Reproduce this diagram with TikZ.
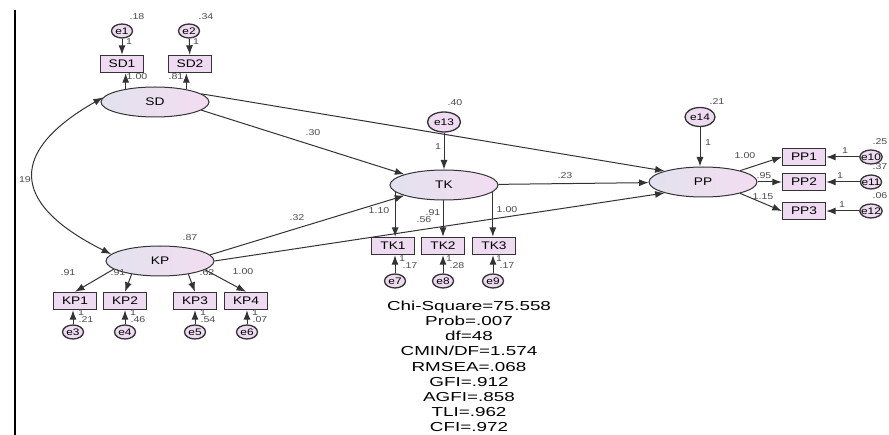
\documentclass[tikz,border=0pt]{standalone}
\usepackage{fontspec}
\setmainfont{Liberation Sans}[FakeStretch=1.25]
\newfontfamily\fitfont{Liberation Sans}[FakeStretch=1.45]
\usetikzlibrary{arrows.meta,shapes.geometric}
\definecolor{latleft}{HTML}{E2E2EE}
\definecolor{latright}{HTML}{F3DCF1}
\definecolor{boxfill}{HTML}{EEDBF1}
\definecolor{edge}{HTML}{333333}
\definecolor{coefgray}{HTML}{4A4A4A}

\begin{document}
\begin{tikzpicture}[x=1pt,y=-1pt,>={Latex[length=9.5pt,width=7pt]},
    latent/.style={ellipse,draw=edge,line width=1pt,left color=latleft,right color=latright,
      minimum width=108pt,minimum height=30pt,inner sep=0pt,font=\fontsize{11}{11}\selectfont},
    obs/.style={rectangle,draw=edge,line width=1.4pt,fill=boxfill,minimum width=43pt,
      minimum height=17pt,inner sep=0pt,font=\fontsize{11}{11}\selectfont},
    err/.style={ellipse,draw=edge,line width=1.3pt,fill=boxfill,minimum width=21pt,
      minimum height=14pt,inner sep=0pt,font=\fontsize{9.5}{9.5}\selectfont},
    coef/.style={font=\fontsize{8.5}{8.5}\selectfont,text=coefgray,inner sep=0pt},
    arr/.style={->,line width=1pt,draw=edge}]
  \useasboundingbox (0,0) rectangle (889,435);
  \draw[line width=1.6pt] (15,10) -- (15,435);

  % SD and its indicators
  \node[err] (e1) at (122,31) {e1};
  \node[err] (e2) at (189,31) {e2};
  \node[obs] (SD1) at (122,64) {SD1};
  \node[obs] (SD2) at (190,64) {SD2};
  \node[latent] (SD) at (155,102) {SD};
  \draw[arr] (e1) -- (SD1);
  \draw[arr] (e2) -- (SD2);
  \draw[arr] (SD.156) -- (SD.156 |- SD1.south);
  \draw[arr] (SD.22) -- (SD.22 |- SD2.south);
  \node[coef] (v18) at (137,17) {.18};
  \node[coef] (v34) at (206,17) {.34};
  \node[coef] (w1) at (129,42) {1};
  \node[coef] (w2) at (196,42) {1};
  \node[coef] (b11) at (137,77) {1.00};
  \node[coef] (b12) at (176,77) {.81};

  % KP and its indicators
  \node[latent] (KP) at (160,261) {KP};
  \node[obs] (KP1) at (75,301) {KP1};
  \node[obs] (KP2) at (125,301) {KP2};
  \node[obs] (KP3) at (195,301) {KP3};
  \node[obs] (KP4) at (246,301) {KP4};
  \node[err] (e3) at (73,332) {e3};
  \node[err] (e4) at (125,332) {e4};
  \node[err] (e5) at (195,332) {e5};
  \node[err] (e6) at (247,332) {e6};
  \draw[arr] (KP.190) -- (KP1.north);
  \draw[arr] (KP.205) -- (KP2.north);
  \draw[arr] (KP.335) -- (KP3.north);
  \draw[arr] (KP.349) -- (KP4.north);
  \draw[arr] (e3.north) -- (e3.north |- KP1.south);
  \draw[arr] (e4.north) -- (e4.north |- KP2.south);
  \draw[arr] (e5.north) -- (e5.north |- KP3.south);
  \draw[arr] (e6.north) -- (e6.north |- KP4.south);
  \node[coef] (v87) at (190,238) {.87};
  \node[coef] (b21) at (68,273) {.91};
  \node[coef] (b22) at (118,273) {.91};
  \node[coef] (b23) at (207,273) {.62};
  \node[coef] (b24) at (243,272) {1.00};
  \node[coef] (w3) at (81,313) {1};
  \node[coef] (w4) at (133,313) {1};
  \node[coef] (w5) at (203,313) {1};
  \node[coef] (w6) at (255,313) {1};
  \node[coef] (v21) at (86,320) {.21};
  \node[coef] (v46) at (138,320) {.46};
  \node[coef] (v54) at (208,320) {.54};
  \node[coef] (v07) at (260,320) {.07};

  % covariance SD <-> KP
  \draw[<->,line width=1pt,draw=edge] (SD.175) .. controls (11,150) and (7,202) .. (KP.172);
  \node[coef] (c19) at (25,180) {19};

  % TK and its indicators
  \node[latent] (TK) at (444,185) {TK};
  \node[err,minimum width=33pt,minimum height=20pt] (e13) at (444,122) {e13};
  \node[obs] (TK1) at (393,246) {TK1};
  \node[obs] (TK2) at (443,246) {TK2};
  \node[obs] (TK3) at (494,246) {TK3};
  \node[err] (e7) at (395,281) {e7};
  \node[err] (e8) at (443,281) {e8};
  \node[err] (e9) at (493,281) {e9};
  \draw[arr] (e13) -- (TK);
  \draw[arr] (TK.188) -- (TK.188 |- TK1.north);
  \draw[arr] (TK.south -| TK2) -- (TK2.north);
  \draw[arr] (TK.352) -- (TK.352 |- TK3.north);
  \draw[arr] (e7.north) -- (e7.north |- TK1.south);
  \draw[arr] (e8.north) -- (e8.north |- TK2.south);
  \draw[arr] (e9.north) -- (e9.north |- TK3.south);
  \node[coef] (v40) at (455,103) {.40};
  \node[coef] (w13) at (438,147) {1};
  \node[coef] (b31) at (379,211) {1.10};
  \node[coef] (b32) at (433,213) {.91};
  \node[coef] (b33) at (507,210) {1.00};
  \node[coef] (w7) at (402,259) {1};
  \node[coef] (w8) at (449,259) {1};
  \node[coef] (w9) at (499,259) {1};
  \node[coef] (v17a) at (410,266) {.17};
  \node[coef] (v28) at (457,266) {.28};
  \node[coef] (v17b) at (507,266) {.17};

  % PP and its indicators
  \node[latent] (PP) at (703,182) {PP};
  \node[err,minimum width=30pt,minimum height=19pt] (e14) at (700,117) {e14};
  \node[obs] (PP1) at (804,157) {PP1};
  \node[obs] (PP2) at (804,182) {PP2};
  \node[obs] (PP3) at (804,211) {PP3};
  \node[err,inner xsep=-2pt] (e10) at (871,157) {e10};
  \node[err,inner xsep=-2pt] (e11) at (871,182) {e11};
  \node[err,inner xsep=-2pt] (e12) at (871,211) {e12};
  \draw[arr] (e14.south) -- (e14.south |- PP.north);
  \draw[arr] (PP.17) -- (PP1.west);
  \draw[arr] (PP) -- (PP2);
  \draw[arr] (PP.343) -- (PP3.west);
  \draw[arr] (e10) -- (PP1);
  \draw[arr] (e11) -- (PP2);
  \draw[arr] (e12) -- (PP3);
  \node[coef] (v21b) at (717,102) {.21};
  \node[coef] (w14) at (708,143) {1};
  \node[coef] (b41) at (745,156) {1.00};
  \node[coef] (b42) at (764,176) {.95};
  \node[coef] (b43) at (763,197) {1.15};
  \node[coef] (w10) at (845,151) {1};
  \node[coef] (w11) at (840,176) {1};
  \node[coef] (w12) at (842,205) {1};
  \node[coef] (v25) at (880,142) {.25};
  \node[coef] (v37) at (880,167) {.37};
  \node[coef] (v06) at (880,196) {.06};

  % structural paths
  \draw[arr] (SD.350) -- (TK.165);
  \draw[arr] (SD.10) -- (PP.164);
  \draw[arr] (KP.7) -- (TK.195);
  \draw[arr] (KP.east) -- (PP.196);
  \draw[arr] (TK) -- (PP);
  \node[coef] (g1) at (313,133) {.30};
  \node[coef] (g2) at (297,218) {.32};
  \node[coef] (g3) at (424,220) {.56};
  \node[coef] (g4) at (565,176) {.23};

  % fit indices
  \node[font=\fitfont\fontsize{13}{15.1}\selectfont,align=center,anchor=north,inner sep=0pt]
    (fit) at (469,301) {Chi-Square=75.558\\Prob=.007\\df=48\\CMIN/DF=1.574\\RMSEA=.068\\
    GFI=.912\\AGFI=.858\\TLI=.962\\CFI=.972};
\end{tikzpicture}
\end{document}
